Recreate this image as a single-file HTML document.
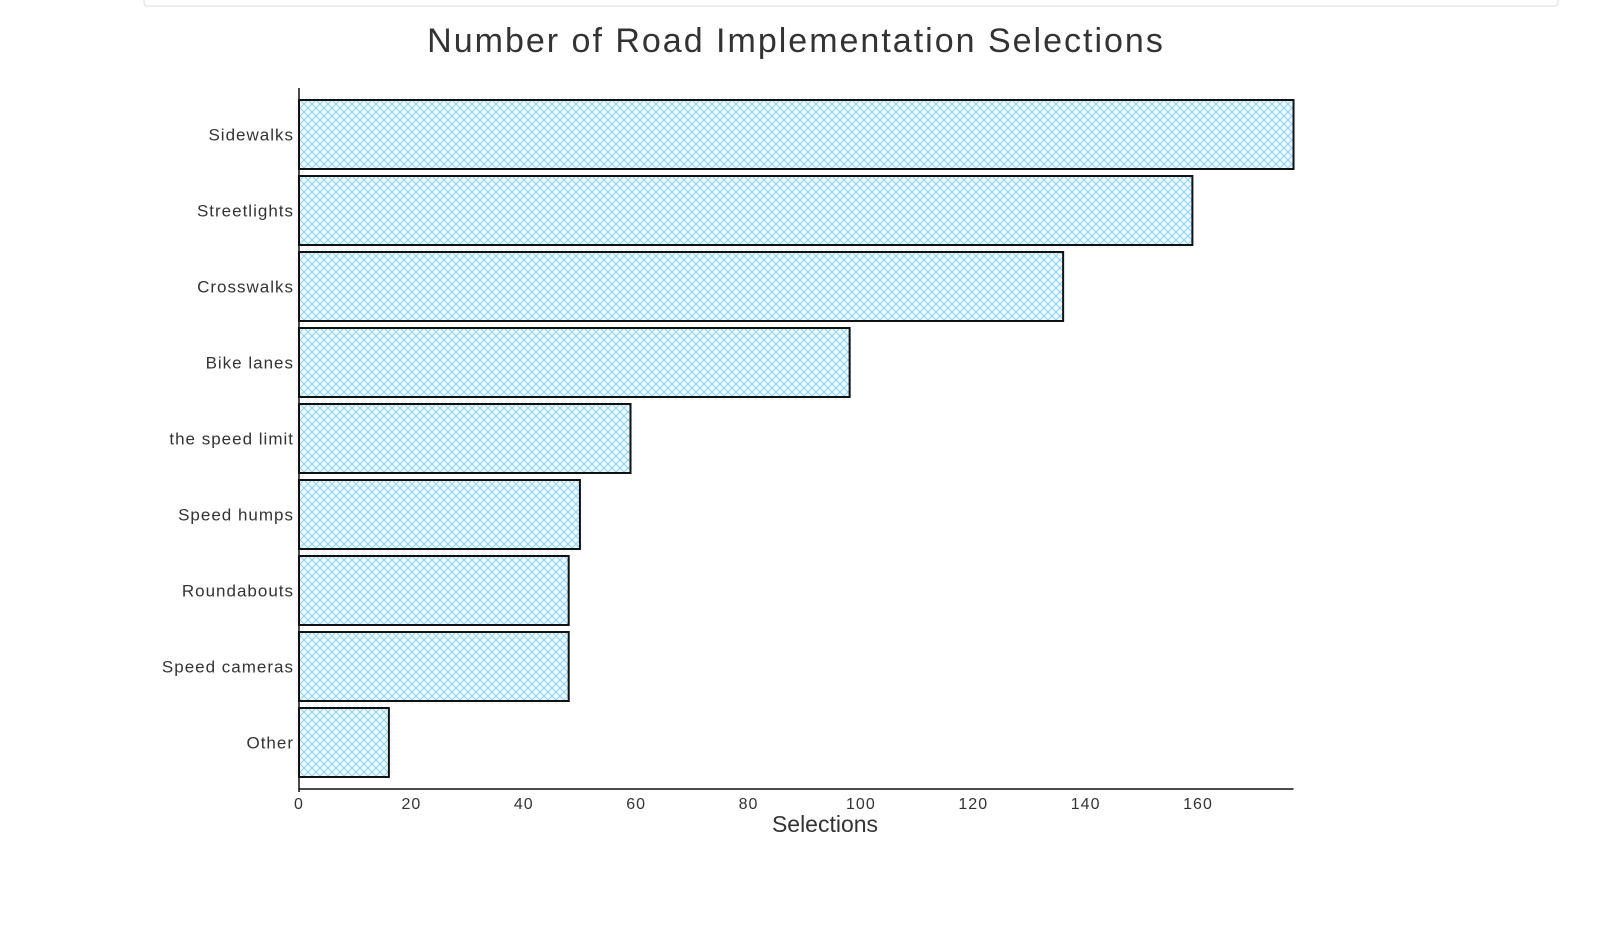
<!DOCTYPE html>
<html><head><meta charset="utf-8"><style>
html,body{margin:0;padding:0;background:#fff;width:1608px;height:945px;overflow:hidden}
text{font-family:"Liberation Sans",sans-serif;fill:#333}
</style></head><body>
<svg id="chart" width="1608" height="945">
<defs>
<pattern id="hatch" width="8" height="8" patternUnits="userSpaceOnUse">
<rect width="8" height="8" fill="#eaf7fd"/>
<path d="M-2,2 L2,-2 M0,8 L8,0 M6,10 L10,6" stroke="#7fcdee" stroke-width="0.8"/>
<path d="M-2,6 L2,10 M0,0 L8,8 M6,-2 L10,2" stroke="#7fcdee" stroke-width="0.8"/>
</pattern>
</defs>
<rect x="144" y="-6" width="1414" height="12" rx="3" fill="#fff" stroke="#ddd"/>
<text x="796" y="52" font-size="34" text-anchor="middle" letter-spacing="2">Number of Road Implementation Selections</text>
<g id="bars"></g>
<g id="axes"></g>
<text x="825" y="832" font-size="23" text-anchor="middle">Selections</text>
</svg>
<script>
const categories=["Sidewalks","Streetlights","Crosswalks","Bike lanes","the speed limit","Speed humps","Roundabouts","Speed cameras","Other"];
const values=[177,159,136,98,59,50,48,48,16];
const ticks=[0,20,40,60,80,100,120,140,160];
const x0=299,pxPer=(1198-299)/160,xMax=177;
const xs=v=>x0+v*pxPer;
const top0=100,step=76,bh=69;
const ns="http://www.w3.org/2000/svg";
const bars=document.getElementById('bars'),axes=document.getElementById('axes');
function mk(t,a,p){const e=document.createElementNS(ns,t);for(const k in a)e.setAttribute(k,a[k]);p.appendChild(e);return e;}
categories.forEach((c,i)=>{
 const y=top0+i*step;
 const r=mk('rect',{x:x0,y:y,width:xs(values[i])-x0,height:bh,fill:'url(#hatch)',stroke:'#111','stroke-width':2},bars);
 
 
 const t=mk('text',{x:x0-5,y:y+bh/2+6,'font-size':17,'text-anchor':'end','letter-spacing':1},axes);
 t.textContent=c;
 
 
});
const ax=mk('line',{x1:x0,y1:789,x2:xs(xMax),y2:789,stroke:'#111','stroke-width':1.5},axes);


const ay=mk('line',{x1:x0,y1:88,x2:x0,y2:792,stroke:'#111','stroke-width':1.5},axes);


ticks.forEach(v=>{
 const t=mk('text',{x:xs(v),y:809,'font-size':16,'text-anchor':'middle','letter-spacing':1},axes);
 t.textContent=v;
 
 
});
</script>
</body></html>
